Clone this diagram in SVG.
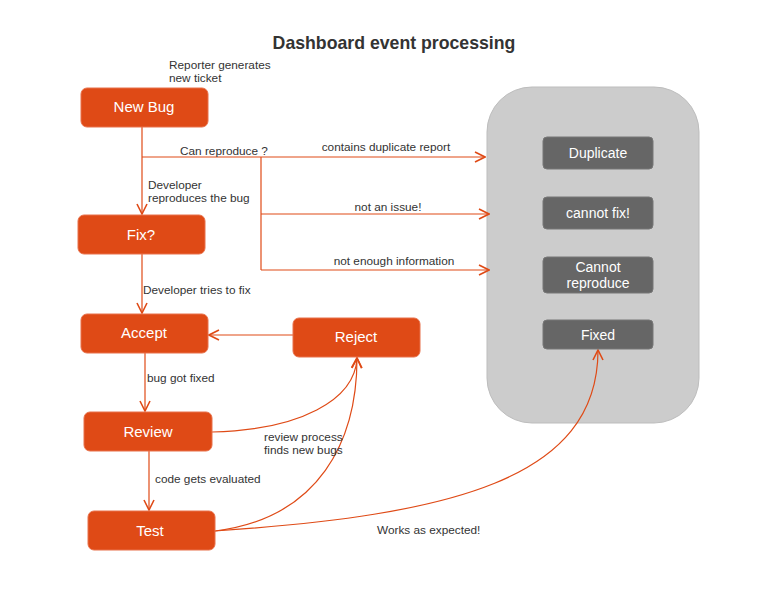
<svg xmlns="http://www.w3.org/2000/svg" width="777" height="600" viewBox="0 0 777 600">
<style>
.node rect{fill:#df4a16;stroke:#e8704a;stroke-width:1}
.node text{fill:#fff;font-family:"Liberation Sans",Arial,sans-serif;font-size:15px;text-anchor:middle}
.state rect{fill:#666;stroke:#777;stroke-width:1}
.state text{fill:#fff;font-family:"Liberation Sans",Arial,sans-serif;font-size:14px;text-anchor:middle}
.edge{fill:none;stroke:#df4a16;stroke-width:1.2}
.lbl{fill:#333;font-family:"Liberation Sans",Arial,sans-serif;font-size:11.8px}
</style>
<defs>
<marker id="arr" viewBox="0 0 12 12" refX="11" refY="6" markerWidth="12" markerHeight="12" markerUnits="userSpaceOnUse" orient="auto">
<path d="M1,1 L11,6 L1,11" fill="none" stroke="#df4a16" stroke-width="1.6"/>
</marker>
</defs>
<rect width="777" height="600" fill="#fff"/>
<text x="394" y="49" text-anchor="middle" font-family="Liberation Sans,Arial,sans-serif" font-size="17.7" font-weight="bold" fill="#333">Dashboard event processing</text>

<g id="container">
<rect x="487" y="87" width="212" height="336" rx="45" fill="#cccccc" stroke="#bdbdbd"/>
</g>

<g id="connectors">
<path class="edge" d="M142,127 V214" marker-end="url(#arr)"/>
<path class="edge" d="M142,157 H485" marker-end="url(#arr)"/>
<path class="edge" d="M261,157 V270"/>
<path class="edge" d="M261,214 H489" marker-end="url(#arr)"/>
<path class="edge" d="M261,270 H489" marker-end="url(#arr)"/>
<path class="edge" d="M142,254 V313" marker-end="url(#arr)"/>
<path class="edge" d="M293,335 H209" marker-end="url(#arr)"/>
<path class="edge" d="M145,353 V411" marker-end="url(#arr)"/>
<path class="edge" d="M149,451 V510" marker-end="url(#arr)"/>
<path class="edge" d="M212,432 C300,430 355,400 357,358" marker-end="url(#arr)"/>
<path class="edge" d="M215,531 C320,518 357,440 357,358" marker-end="url(#arr)"/>
<path class="edge" d="M215,531 C450,515 598,480 598,350" marker-end="url(#arr)"/>
<text class="lbl" x="169" y="69">Reporter generates</text>
<text class="lbl" x="169" y="82">new ticket</text>
<text class="lbl" x="180" y="155">Can reproduce ?</text>
<text class="lbl" x="386" y="151" text-anchor="middle">contains duplicate report</text>
<text class="lbl" x="148" y="189">Developer</text>
<text class="lbl" x="148" y="202">reproduces the bug</text>
<text class="lbl" x="388" y="211" text-anchor="middle">not an issue!</text>
<text class="lbl" x="394" y="265" text-anchor="middle">not enough information</text>
<text class="lbl" x="143" y="294">Developer tries to fix</text>
<text class="lbl" x="147" y="382">bug got fixed</text>
<text class="lbl" x="264" y="441">review process</text>
<text class="lbl" x="264" y="454">finds new bugs</text>
<text class="lbl" x="155" y="483">code gets evaluated</text>
<text class="lbl" x="377" y="534">Works as expected!</text>
</g>

<g id="new-bug" class="node"><rect x="81" y="88" width="127" height="39" rx="6"/><text x="144" y="112">New Bug</text></g>
<g id="fix" class="node"><rect x="78" y="215" width="127" height="39" rx="6"/><text x="141" y="240">Fix?</text></g>
<g id="accept" class="node"><rect x="81" y="314" width="127" height="39" rx="6"/><text x="144" y="338">Accept</text></g>
<g id="reject" class="node"><rect x="293" y="318" width="127" height="39" rx="6"/><text x="356" y="342">Reject</text></g>
<g id="review" class="node"><rect x="84" y="412" width="128" height="39" rx="6"/><text x="148" y="437">Review</text></g>
<g id="test" class="node"><rect x="88" y="511" width="127" height="39" rx="6"/><text x="150" y="536">Test</text></g>

<g id="duplicate" class="state"><rect x="543" y="137" width="110" height="32" rx="4"/><text x="598" y="158">Duplicate</text></g>
<g id="cannot-fix" class="state"><rect x="543" y="197" width="110" height="32" rx="4"/><text x="598" y="218">cannot fix!</text></g>
<g id="cannot-reproduce" class="state"><rect x="543" y="257" width="110" height="36" rx="4"/><text x="598" y="272">Cannot</text><text x="598" y="288">reproduce</text></g>
<g id="fixed" class="state"><rect x="543" y="320" width="110" height="29" rx="4"/><text x="598" y="340">Fixed</text></g>
</svg>
